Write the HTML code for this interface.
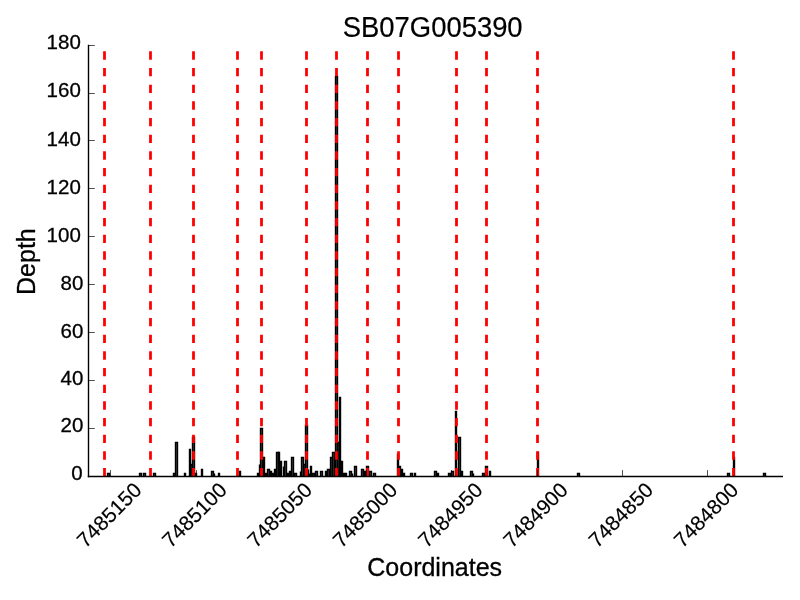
<!DOCTYPE html>
<html><head><meta charset="utf-8"><title>SB07G005390</title>
<style>
html,body{margin:0;padding:0;background:#fff;}
body{width:800px;height:600px;overflow:hidden;}
svg{display:block;}
text{font-family:"Liberation Sans",sans-serif;fill:#000;stroke:#000;stroke-width:0.3px;}
.xt text{stroke-width:0.15px;}
</style></head><body>
<svg width="800" height="600" viewBox="0 0 800 600">
<rect x="0" y="0" width="800" height="600" fill="#ffffff"/>

<g stroke="#000" stroke-width="1.39" fill="#404040" stroke-linejoin="miter">
<path d="M107.5,476.5V473.5H109.5V476.5"/>
<path d="M139.5,476.5V473.5H141.5V476.5"/>
<path d="M143.5,476.5V473.5H145.5V476.5"/>
<path d="M153.5,476.5V473.5H155.5V476.5"/>
<path d="M173.5,476.5V473.5H175.5V476.5"/>
<path d="M184.5,476.5V473.5H185.5V476.5"/>
<path d="M195.5,476.5V473.5H196.5V476.5"/>
<path d="M214.5,476.5V473.5H214.5V476.5"/>
<path d="M218.5,476.5V473.5H219.5V476.5"/>
<path d="M257.5,476.5V473.5H258.5V476.5"/>
<path d="M265.5,476.5V473.5H266.5V476.5"/>
<path d="M272.5,476.5V473.5H273.5V476.5"/>
<path d="M287.5,476.5V473.5H288.5V476.5"/>
<path d="M294.5,476.5V473.5H296.5V476.5"/>
<path d="M309.5,476.5V473.5H309.5V476.5"/>
<path d="M312.5,476.5V473.5H314.5V476.5"/>
<path d="M343.5,476.5V473.5H344.5V476.5"/>
<path d="M345.5,476.5V473.5H346.5V476.5"/>
<path d="M352.5,476.5V473.5H352.5V476.5"/>
<path d="M373.5,476.5V473.5H375.5V476.5"/>
<path d="M403.5,476.5V473.5H404.5V476.5"/>
<path d="M410.5,476.5V473.5H412.5V476.5"/>
<path d="M414.5,476.5V473.5H415.5V476.5"/>
<path d="M437.5,476.5V473.5H438.5V476.5"/>
<path d="M448.5,476.5V473.5H450.5V476.5"/>
<path d="M473.5,476.5V473.5H473.5V476.5"/>
<path d="M482.5,476.5V473.5H484.5V476.5"/>
<path d="M577.5,476.5V473.5H579.5V476.5"/>
<path d="M727.5,476.5V473.5H729.5V476.5"/>
<path d="M763.5,476.5V473.5H765.5V476.5"/>
<path d="M211.5,476.5V471.5H213.5V476.5"/>
<path d="M239.5,476.5V471.5H240.5V476.5"/>
<path d="M270.5,476.5V471.5H271.5V476.5"/>
<path d="M289.5,476.5V471.5H290.5V476.5"/>
<path d="M300.5,476.5V471.5H300.5V476.5"/>
<path d="M315.5,476.5V471.5H317.5V476.5"/>
<path d="M320.5,476.5V471.5H322.5V476.5"/>
<path d="M325.5,476.5V471.5H326.5V476.5"/>
<path d="M349.5,476.5V471.5H351.5V476.5"/>
<path d="M364.5,476.5V471.5H365.5V476.5"/>
<path d="M369.5,476.5V471.5H371.5V476.5"/>
<path d="M434.5,476.5V471.5H436.5V476.5"/>
<path d="M451.5,476.5V471.5H453.5V476.5"/>
<path d="M461.5,476.5V471.5H462.5V476.5"/>
<path d="M470.5,476.5V471.5H472.5V476.5"/>
<path d="M489.5,476.5V471.5H490.5V476.5"/>
<path d="M201.5,476.5V469.5H202.5V476.5"/>
<path d="M267.5,476.5V469.5H269.5V476.5"/>
<path d="M274.5,476.5V469.5H275.5V476.5"/>
<path d="M308.5,476.5V469.5H308.5V476.5"/>
<path d="M327.5,476.5V469.5H329.5V476.5"/>
<path d="M361.5,476.5V469.5H363.5V476.5"/>
<path d="M401.5,476.5V469.5H402.5V476.5"/>
<path d="M283.5,476.5V466.5H283.5V476.5"/>
<path d="M310.5,476.5V466.5H311.5V476.5"/>
<path d="M354.5,476.5V466.5H356.5V476.5"/>
<path d="M366.5,476.5V466.5H368.5V476.5"/>
<path d="M399.5,476.5V466.5H400.5V476.5"/>
<path d="M485.5,476.5V466.5H487.5V476.5"/>
<path d="M190.5,476.5V464.5H192.5V476.5"/>
<path d="M259.5,476.5V464.5H259.5V476.5"/>
<path d="M303.5,476.5V464.5H305.5V476.5"/>
<path d="M280.5,476.5V461.5H281.5V476.5"/>
<path d="M284.5,476.5V461.5H286.5V476.5"/>
<path d="M341.5,476.5V461.5H342.5V476.5"/>
<path d="M263.5,476.5V457.5H264.5V476.5"/>
<path d="M291.5,476.5V457.5H293.5V476.5"/>
<path d="M301.5,476.5V457.5H303.5V476.5"/>
<path d="M330.5,476.5V457.5H332.5V476.5"/>
<path d="M733.5,476.5V457.5H734.5V476.5"/>
<path d="M397.5,476.5V454.5H398.5V476.5"/>
<path d="M276.5,476.5V452.5H278.5V476.5"/>
<path d="M278.5,476.5V452.5H279.5V476.5"/>
<path d="M332.5,476.5V452.5H334.5V476.5"/>
<path d="M537.5,476.5V452.5H538.5V476.5"/>
<path d="M189.5,476.5V449.5H190.5V476.5"/>
<path d="M175.5,476.5V442.5H177.5V476.5"/>
<path d="M337.5,476.5V442.5H339.5V476.5"/>
<path d="M192.5,476.5V437.5H194.5V476.5"/>
<path d="M458.5,476.5V437.5H460.5V476.5"/>
<path d="M260.5,476.5V428.5H262.5V476.5"/>
<path d="M305.5,476.5V425.5H307.5V476.5"/>
<path d="M455.5,476.5V411.5H456.5V476.5"/>
<path d="M339.5,476.5V397.5H340.5V476.5"/>
<path d="M335.5,476.5V76.5H337.5V476.5"/>
</g>
<g stroke="#ff0000" stroke-width="2.78" stroke-dasharray="8.333 8.333" fill="none">
<line x1="104.5" y1="476.3" x2="104.5" y2="45.4"/>
<line x1="150.5" y1="476.3" x2="150.5" y2="45.4"/>
<line x1="193.5" y1="476.3" x2="193.5" y2="45.4"/>
<line x1="237.5" y1="476.3" x2="237.5" y2="45.4"/>
<line x1="261.5" y1="476.3" x2="261.5" y2="45.4"/>
<line x1="306.5" y1="476.3" x2="306.5" y2="45.4"/>
<line x1="336.5" y1="476.3" x2="336.5" y2="45.4"/>
<line x1="367.5" y1="476.3" x2="367.5" y2="45.4"/>
<line x1="398.5" y1="476.3" x2="398.5" y2="45.4"/>
<line x1="456.5" y1="476.3" x2="456.5" y2="45.4"/>
<line x1="486.5" y1="476.3" x2="486.5" y2="45.4"/>
<line x1="537.5" y1="476.3" x2="537.5" y2="45.4"/>
<line x1="733.5" y1="476.3" x2="733.5" y2="45.4"/>
</g>
<g stroke="#000" stroke-width="0.69" fill="none">
<line x1="110.5" y1="476.3" x2="110.5" y2="470.10"/>
<line x1="196.5" y1="476.3" x2="196.5" y2="470.10"/>
<line x1="281.5" y1="476.3" x2="281.5" y2="470.10"/>
<line x1="366.5" y1="476.3" x2="366.5" y2="470.10"/>
<line x1="451.5" y1="476.3" x2="451.5" y2="470.10"/>
<line x1="537.5" y1="476.3" x2="537.5" y2="470.10"/>
<line x1="622.5" y1="476.3" x2="622.5" y2="470.10"/>
<line x1="707.5" y1="476.3" x2="707.5" y2="470.10"/>
<line x1="88.5" y1="476.5" x2="94.80" y2="476.5"/>
<line x1="88.5" y1="428.5" x2="94.80" y2="428.5"/>
<line x1="88.5" y1="380.5" x2="94.80" y2="380.5"/>
<line x1="88.5" y1="332.5" x2="94.80" y2="332.5"/>
<line x1="88.5" y1="284.5" x2="94.80" y2="284.5"/>
<line x1="88.5" y1="236.5" x2="94.80" y2="236.5"/>
<line x1="88.5" y1="188.5" x2="94.80" y2="188.5"/>
<line x1="88.5" y1="140.5" x2="94.80" y2="140.5"/>
<line x1="88.5" y1="93.5" x2="94.80" y2="93.5"/>
<line x1="88.5" y1="45.5" x2="94.80" y2="45.5"/>
</g>
<g stroke="#000" stroke-width="1.39" fill="none" stroke-linecap="square">
<line x1="88.5" y1="476.5" x2="782.3" y2="476.5"/>
<line x1="88.5" y1="476.5" x2="88.5" y2="45.5"/>
</g>
<g font-size="20.5px" text-anchor="end">
<text x="82.70" y="480.30">0</text>
<text x="83.30" y="432.22">20</text>
<text x="83.30" y="385.19">40</text>
<text x="83.30" y="337.51">60</text>
<text x="83.30" y="289.68">80</text>
<text x="80.80" y="241.70">100</text>
<text x="80.80" y="193.82">120</text>
<text x="80.80" y="145.94">140</text>
<text x="80.80" y="97.06">160</text>
<text x="80.80" y="49.18">180</text>
</g>
<g class="xt" font-size="20.83px" text-anchor="middle">
<text transform="translate(109.00,514.80) rotate(-45)" x="0" y="7.4">7485150</text>
<text transform="translate(194.27,514.80) rotate(-45)" x="0" y="7.4">7485100</text>
<text transform="translate(279.54,514.80) rotate(-45)" x="0" y="7.4">7485050</text>
<text transform="translate(364.81,514.80) rotate(-45)" x="0" y="7.4">7485000</text>
<text transform="translate(450.08,514.80) rotate(-45)" x="0" y="7.4">7484950</text>
<text transform="translate(535.35,514.80) rotate(-45)" x="0" y="7.4">7484900</text>
<text transform="translate(620.62,514.80) rotate(-45)" x="0" y="7.4">7484850</text>
<text transform="translate(705.89,514.80) rotate(-45)" x="0" y="7.4">7484800</text>
</g>
<text x="434.7" y="576.3" font-size="25px" text-anchor="middle">Coordinates</text>
<text transform="translate(34.8,261.6) rotate(-90) scale(1,1.045)" font-size="25px" text-anchor="middle">Depth</text>
<text transform="translate(432.7,37) scale(0.987,1.05)" stroke-width="0.2" style="stroke-width:0.2px" font-size="27.78px" text-anchor="middle">SB07G005390</text>
</svg></body></html>
